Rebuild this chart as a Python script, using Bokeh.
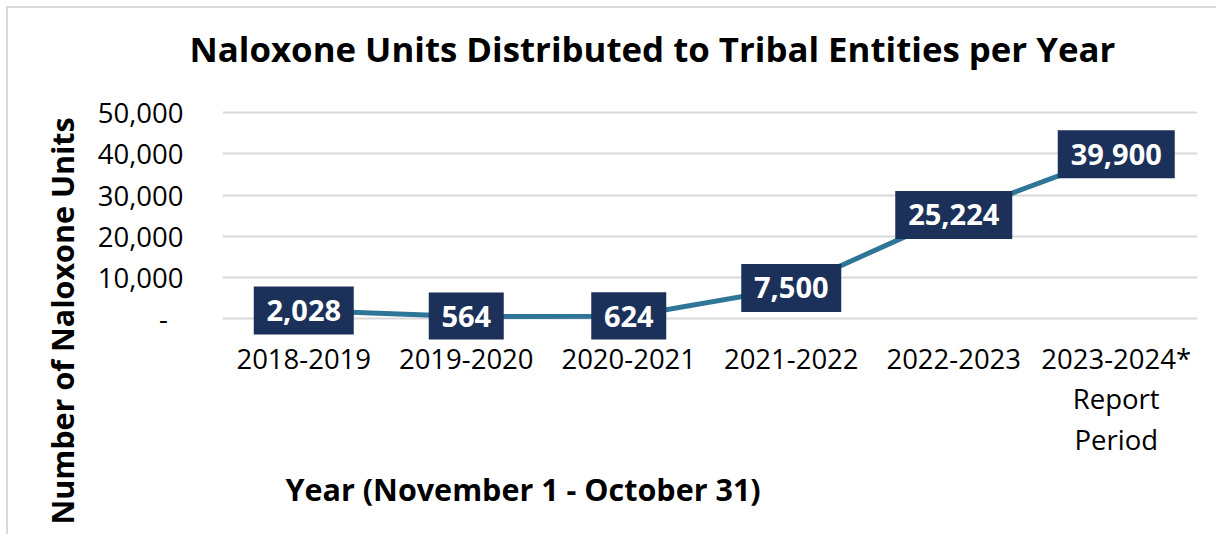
from bokeh.plotting import figure
from bokeh.models import (ColumnDataSource, Title, FixedTicker,
                          NumeralTickFormatter, FactorRange, Range1d)
from bokeh.core.properties import value
from bokeh.embed import file_html
from bokeh.resources import INLINE

# ---- data ----
years = ["2018-2019", "2019-2020", "2020-2021", "2021-2022", "2022-2023",
         "2023-2024*\nReport\nPeriod"]
units = [2028, 564, 624, 7500, 25224, 39900]
unit_labels = ["2,028", "564", "624", "7,500", "25,224", "39,900"]
y_ticks = [0, 10000, 20000, 30000, 40000, 50000]

title_text = "Naloxone Units Distributed to Tribal Entities per Year"
x_title = "Year (November 1 - October 31)"
y_title = "Number of Naloxone Units"

FONT = "Open Sans"
LINE = "#2E7597"
NAVY = "#1B3159"
GRID = "#D9D9D9"


def box_width(s):
    # approximate pixel width of the bold label text plus padding
    return sum(8 if c == "," else 17 for c in s) + 24


W, H = 1210, 528
p = figure(width=W, height=H, x_range=FactorRange(*years), y_range=Range1d(-5000, 60000),
           output_backend="svg", toolbar_location=None,
           min_border_left=214, min_border_right=21, min_border_top=63,
           min_border_bottom=197)
p.outline_line_color = None
p.background_fill_color = "white"
p.border_fill_color = "white"
p.styles = {"margin-left": "6px", "margin-top": "6px",
            "border-left": "2px solid #d9d9d9", "border-top": "2px solid #d9d9d9"}

p.xgrid.grid_line_color = None
p.ygrid.grid_line_color = GRID
p.ygrid.grid_line_width = 2

for ax in (p.xaxis[0], p.yaxis[0]):
    ax.axis_line_color = None
    ax.major_tick_line_color = None
    ax.minor_tick_line_color = None
    ax.major_tick_out = 0
    ax.major_tick_in = 0
    ax.major_label_text_font = FONT
    ax.major_label_text_font_size = "27.5px"
    ax.major_label_text_color = "black"

p.yaxis.ticker = FixedTicker(ticks=y_ticks)
p.yaxis.formatter = NumeralTickFormatter(format="0,0")
p.yaxis.major_label_overrides = {0: "-\u2007"}
p.yaxis.major_label_standoff = 39
p.xaxis.major_label_standoff = 0
p.xaxis.major_label_text_line_height = 1.1
p.xaxis.major_label_orientation = "horizontal"

src = ColumnDataSource(dict(x=years, y=units, lab=unit_labels,
                            w=[box_width(s) for s in unit_labels]))
p.line("x", "y", source=src, line_color=LINE, line_width=5)
p.rect(x="x", y="y", width="w", height=48, width_units="screen", height_units="screen",
       source=src, fill_color=NAVY, line_color=None)
p.text(x="x", y="y", text="lab", source=src, text_align="center", text_baseline="middle",
       text_font=value(FONT), text_font_style="bold", text_font_size="29px",
       text_color="white")

p.add_layout(Title(text=title_text, align="left", offset=-33, standoff=0, text_font=FONT,
                   text_font_style="bold", text_font_size="34.8px", text_color="black"),
             "above")
p.add_layout(Title(text=x_title, align="left", offset=63, text_font=FONT,
                   text_font_style="bold", text_font_size="30.5px", text_color="black"),
             "below")
p.add_layout(Title(text=y_title, align="left", offset=-185, standoff=23, text_font=FONT,
                   text_font_style="bold", text_font_size="30.5px", text_color="black"),
             "left")

open("out.html", "w").write(file_html(p, INLINE))
